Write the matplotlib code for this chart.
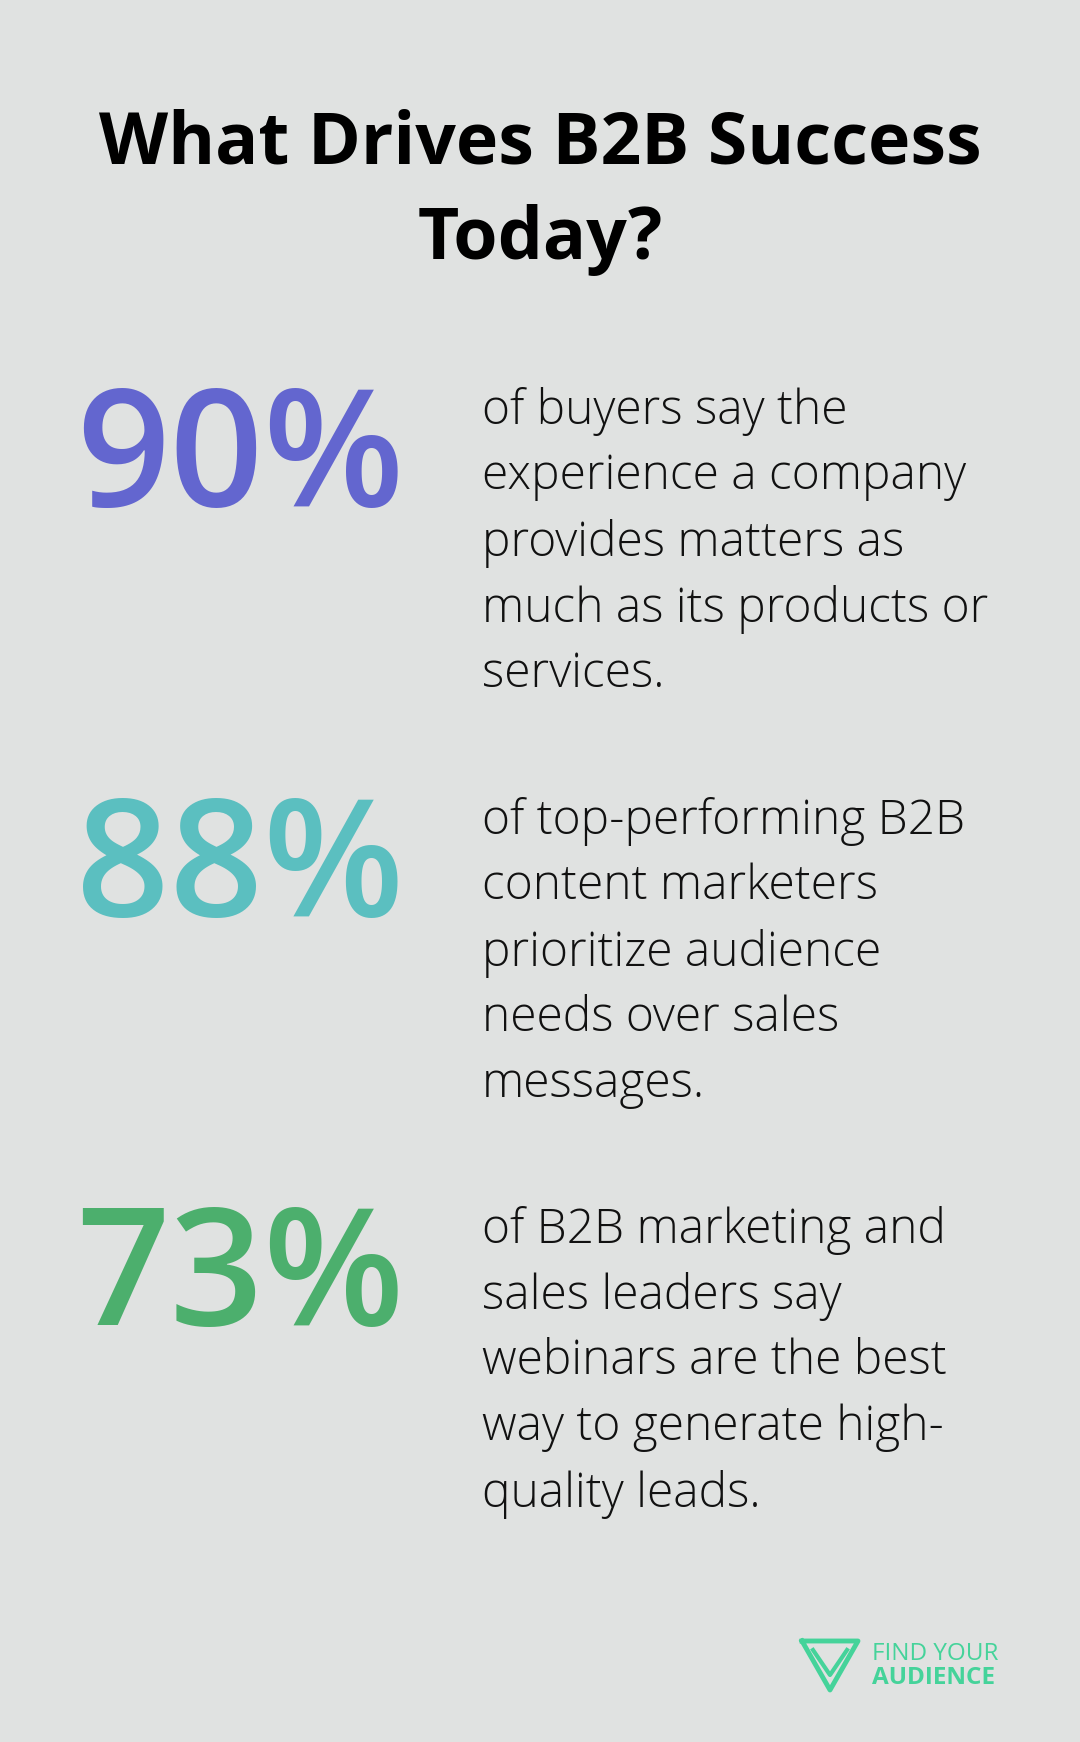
import matplotlib
matplotlib.use("Agg")
import matplotlib.pyplot as plt

TITLE = ["What Drives B2B Success", "Today?"]
VALUES = ["90%", "88%", "73%"]
COLORS = ["#6366cf", "#5bbfc0", "#4caf6d"]
TEXTS = [
    ["of buyers say the", "experience a company", "provides matters as",
     "much as its products or", "services."],
    ["of top-performing B2B", "content marketers", "prioritize audience",
     "needs over sales", "messages."],
    ["of B2B marketing and", "sales leaders say", "webinars are the best",
     "way to generate high-", "quality leads."],
]

BG = "#e0e2e1"
W, H = 1080, 1742
fig = plt.figure(figsize=(W / 100, H / 100), dpi=100)
fig.patch.set_facecolor(BG)
ax = fig.add_axes([0, 0, 1, 1])
ax.set_xlim(0, W)
ax.set_ylim(H, 0)
ax.axis("off")

for i, line in enumerate(TITLE):
    ax.text(540, 144 + i * 96, line, ha="center", va="center",
            fontsize=51.5, fontweight="bold", family="Open Sans", color="#000000")

num_y = [463, 873, 1282]
for k in range(3):
    ax.text(240, num_y[k], VALUES[k], ha="center", va="center",
            fontsize=118, fontweight="semibold", family="Open Sans",
            color=COLORS[k])
    top = num_y[k] - 52
    for j, line in enumerate(TEXTS[k]):
        ax.text(482, top + j * 66, line, ha="left", va="center",
                fontsize=34.5, fontweight="light", family="Open Sans",
                color="#111111")

# logo
g = "#45d39a"
ax.plot([802, 858, 830, 802], [1641, 1641, 1690, 1641], color=g, lw=3.5)
ax.plot([813, 830, 847], [1650, 1675, 1650], color=g, lw=3)
ax.text(872, 1654, "FIND YOUR", ha="left", va="center", fontsize=17.5,
        family="Open Sans", color=g)
ax.text(872, 1678, "AUDIENCE", ha="left", va="center", fontsize=17.5,
        fontweight="bold", family="Open Sans", color=g)

fig.savefig("out.png", dpi=100, facecolor=BG)
